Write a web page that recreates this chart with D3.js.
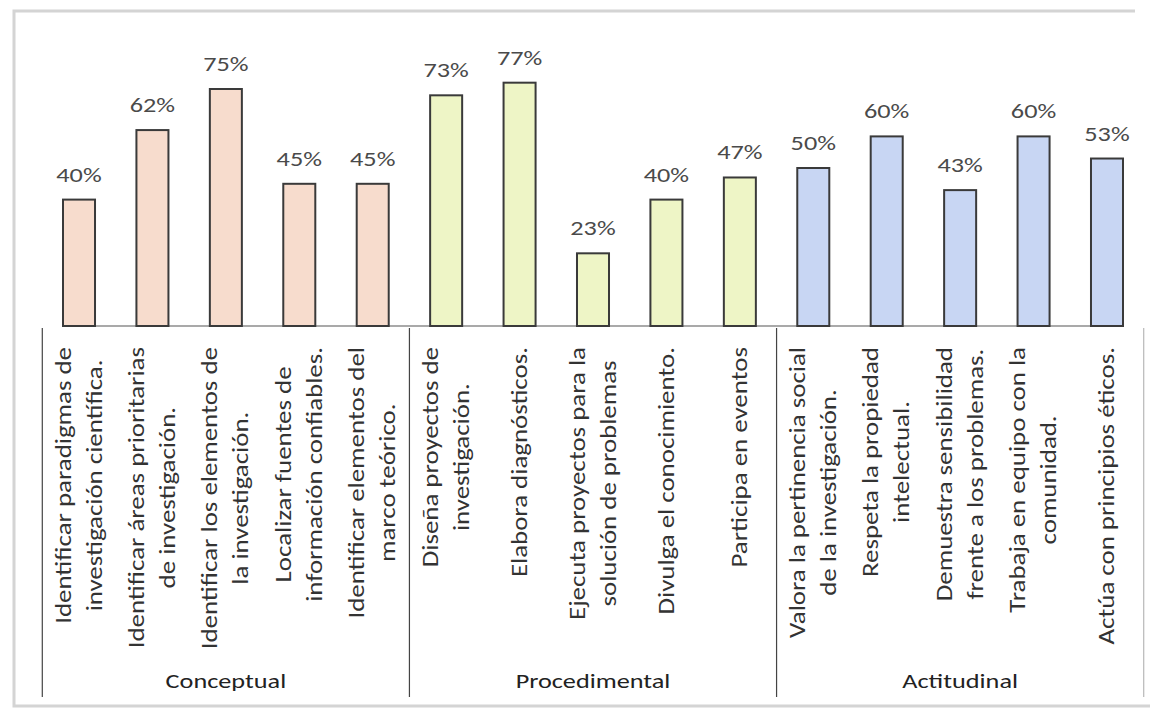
<!DOCTYPE html>
<html lang="es">
<head>
  <meta charset="UTF-8">
  <title>Competencias investigativas</title>
  <script src="https://d3js.org/d3.v7.min.js"></script>
  <style>
    body {
      margin: 0;
      background: #fff;
      font-family: Carlito, Calibri, Lato, sans-serif;
    }
    svg {
      display: block;
    }
  </style>
</head>
<body>
  <svg id="chart" width="1160" height="709"></svg>

  <script>
    // etiquetas de cada barra (saltos de línea como en el original)
    const labels = [
      ["Identificar paradigmas de", "investigación científica."],
      ["Identificar áreas prioritarias", "de investigación."],
      ["Identificar los elementos de", "la investigación."],
      ["Localizar fuentes de", "información confiables."],
      ["Identificar elementos del", "marco teórico."],
      ["Diseña proyectos de", "investigación."],
      ["Elabora diagnósticos."],
      ["Ejecuta proyectos para la", "solución de problemas"],
      ["Divulga el conocimiento."],
      ["Participa en eventos"],
      ["Valora la pertinencia social", "de la investigación."],
      ["Respeta la propiedad", "intelectual."],
      ["Demuestra sensibilidad", "frente a los problemas."],
      ["Trabaja en equipo con la", "comunidad."],
      ["Actúa con principios éticos."]
    ];
    const values = [40, 62, 75, 45, 45, 73, 77, 23, 40, 47, 50, 60, 43, 60, 53];
    const groupOf = [0, 0, 0, 0, 0, 1, 1, 1, 1, 1, 2, 2, 2, 2, 2];
    const groups = ["Conceptual", "Procedimental", "Actitudinal"];
    const groupColors = ["#f7dccd", "#eef5c6", "#c8d6f3"];

    const svg = d3.select("#chart");
    const idx = d3.range(values.length);
    const stretch = 1.25; // el texto del original es más ancho que Lato

    const x = d3.scaleBand()
      .domain(idx)
      .range([42, 1144])
      .paddingInner(0.564)
      .paddingOuter(0.286);

    const y = d3.scaleLinear()
      .domain([0, 100])
      .range([326, 10]);

    const step = x.step();
    const cx = i => x(i) + x.bandwidth() / 2;

    // marco exterior gris claro
    svg.append("path")
      .attr("d", "M1135,11 H14 V706 H1150")
      .attr("fill", "none")
      .attr("stroke", "#d4d4d4")
      .attr("stroke-width", 3);

    // línea base
    svg.append("line")
      .attr("x1", x(0)).attr("x2", x(values.length - 1) + x.bandwidth())
      .attr("y1", y(0)).attr("y2", y(0))
      .attr("stroke", "#555")
      .attr("stroke-width", 1.2);

    // barras
    svg.selectAll(".bar")
      .data(values)
      .enter().append("rect")
      .attr("class", "bar")
      .attr("x", (d, i) => x(i))
      .attr("y", d => y(d))
      .attr("width", x.bandwidth())
      .attr("height", d => y(0) - y(d))
      .attr("fill", (d, i) => groupColors[groupOf[i]])
      .attr("stroke", "#3a3a3a")
      .attr("stroke-width", 2);

    // porcentajes
    svg.selectAll(".val")
      .data(values)
      .enter().append("text")
      .attr("class", "val")
      .attr("transform", (d, i) => `translate(${cx(i)},${y(d) - 18}) scale(${stretch},1)`)
      .attr("text-anchor", "middle")
      .attr("font-size", 21)
      .attr("fill", "#4a4a4a")
      .text(d => d + "%");

    // separadores de la tabla de categorías
    const bounds = [0, 5, 10, 15].map(k => k < 15 ? cx(k) - step / 2 : cx(14) + step / 2);
    svg.selectAll(".sep")
      .data(bounds)
      .enter().append("line")
      .attr("class", "sep")
      .attr("x1", d => d).attr("x2", d => d)
      .attr("y1", 328).attr("y2", 697)
      .attr("stroke", (d, i) => i === 3 ? "#b8b8b8" : "#444")
      .attr("stroke-width", 1.2);

    // etiquetas rotadas
    const lineGap = 31;
    labels.forEach((lines, i) => {
      const g = svg.append("g");
      const texts = lines.map((t, j) => g.append("text")
        .attr("text-anchor", "middle")
        .attr("font-size", 21.5)
        .attr("fill", "#333")
        .attr("y", (j - (lines.length - 1) / 2) * lineGap)
        .attr("dy", "0.33em")
        .text(t));
      const maxW = d3.max(texts, t => t.node().getComputedTextLength()) * stretch;
      g.attr("transform", `translate(${cx(i)},${347 + maxW / 2}) rotate(-90) scale(${stretch},1)`);
    });

    // nombres de grupo
    svg.selectAll(".grp")
      .data(groups)
      .enter().append("text")
      .attr("class", "grp")
      .attr("transform", (d, k) => `translate(${(bounds[k] + bounds[k + 1]) / 2},688) scale(${stretch},1)`)
      .attr("text-anchor", "middle")
      .attr("font-size", 21)
      .attr("fill", "#222")
      .text(d => d);
  </script>
</body>
</html>
